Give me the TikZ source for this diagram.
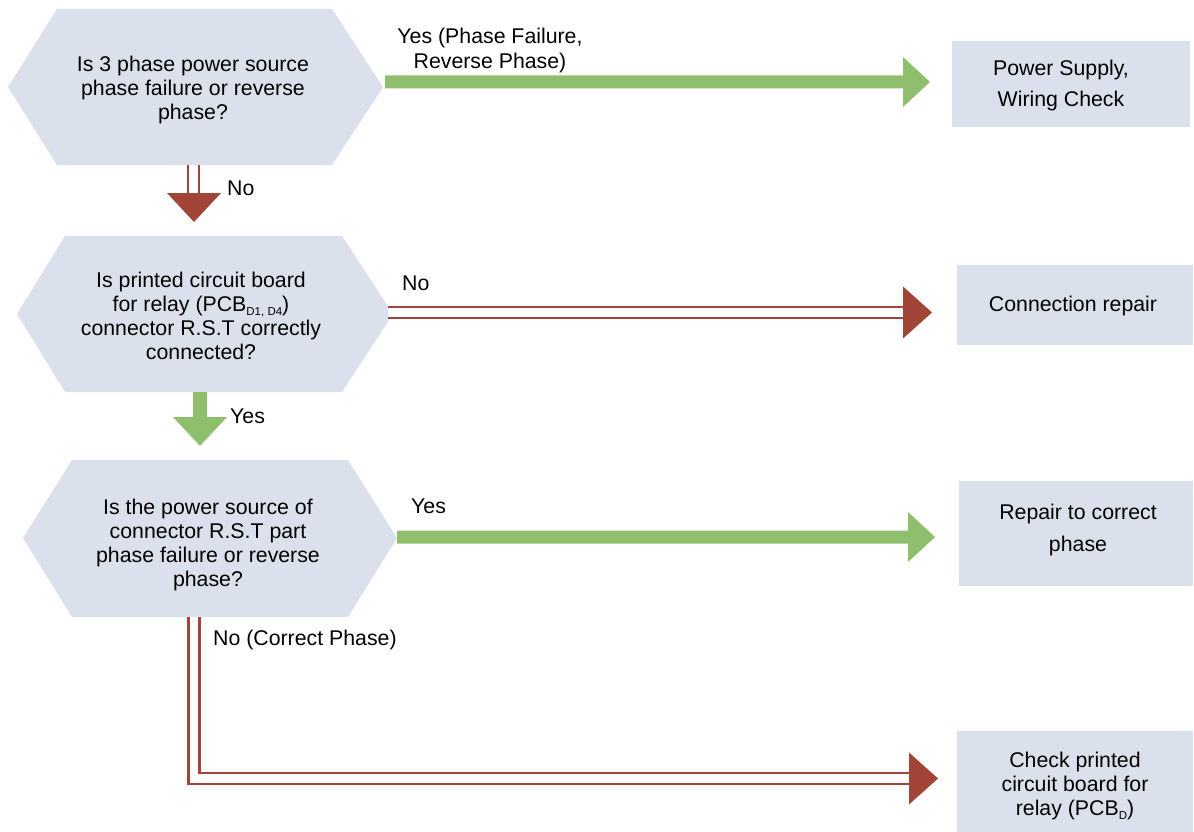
\documentclass[tikz,border=0pt]{standalone}
\usepackage{fontspec}
\setmainfont{Liberation Sans}
\usetikzlibrary{calc}
\definecolor{hexfill}{RGB}{218,225,237}
\definecolor{gcol}{RGB}{143,191,109}
\definecolor{rcol}{RGB}{162,68,56}
\newcommand{\sub}[1]{\raisebox{-4pt}{\fontsize{11.5}{11.5}\selectfont #1}}
% green block arrow to the right: start, tip (same y)
\newcommand{\garrowR}[2]{\fill[gcol] ($(#1)+(0,-6.5)$) -- ($(#2)+(-27,-6.5)$) -- ($(#2)+(-27,-25)$) -- (#2) -- ($(#2)+(-27,25)$) -- ($(#2)+(-27,6.5)$) -- ($(#1)+(0,6.5)$) -- cycle;}
% green block arrow downward: start, tip (same x)
\newcommand{\garrowD}[2]{\fill[gcol] ($(#1)+(-7,0)$) -- ($(#2)+(-7,-29)$) -- ($(#2)+(-27,-29)$) -- (#2) -- ($(#2)+(27,-29)$) -- ($(#2)+(7,-29)$) -- ($(#1)+(7,0)$) -- cycle;}
% red heads
\newcommand{\rheadR}[1]{\fill[rcol] (#1) -- ($(#1)+(-29,-26)$) -- ($(#1)+(-29,26)$) -- cycle;}
\newcommand{\rheadD}[1]{\fill[rcol] (#1) -- ($(#1)+(-27,-29)$) -- ($(#1)+(27,-29)$) -- cycle;}
\tikzset{
  txt/.style={font=\fontsize{21.3}{24}\selectfont, text=black, inner sep=0pt, align=center},
  box/.style={fill=hexfill, draw=none, inner sep=0pt},
  redline/.style={draw=rcol, line width=2.4pt, double=white, double distance=8.6pt},
}
\begin{document}
\begin{tikzpicture}[x=1pt,y=-1pt]
\useasboundingbox (0,0) rectangle (1194,832);
\fill[white] (0,0) rectangle (1194,832);

% hexagons
\fill[hexfill] (8,87) -- (57,9) -- (332,9) -- (383,87) -- (332,165) -- (57,165) -- cycle;
\node[txt] (q1) at (193,90) {Is 3 phase power source\\phase failure or reverse\\phase?};

\fill[hexfill] (17,314) -- (65,236) -- (342,236) -- (393,314) -- (342,392) -- (65,392) -- cycle;
\node[txt] (q2) at (201,315.5) {Is printed circuit board\\for relay (PCB\sub{D1,\ D4})\\connector R.S.T correctly\\connected?};

\fill[hexfill] (23,538) -- (72,460) -- (348,460) -- (397,538) -- (348,617) -- (72,617) -- cycle;
\node[txt] (q3) at (208,545) {Is the power source of\\connector R.S.T part\\phase failure or reverse\\phase?};

% boxes
\node[box, minimum width=238pt, minimum height=86pt] (b1) at (1071,84) {};
\node[txt, font=\fontsize{21.3}{31}\selectfont] (b1t) at (1061,85) {Power Supply,\\Wiring Check};
\node[box, minimum width=236pt, minimum height=80pt] (b2) at (1075,305) {};
\node[txt] (b2t) at (1073,306) {Connection repair};
\node[box, minimum width=234pt, minimum height=105pt] (b3) at (1076,533.5) {};
\node[txt, font=\fontsize{21.3}{32}\selectfont] (b3t) at (1078,530) {Repair to correct\\phase};
\node[box, minimum width=236pt, minimum height=101pt] (b4) at (1075,781.5) {};
\node[txt] (b4t) at (1075,786) {Check printed\\circuit board for\\relay (PCB\sub{D})};

% connector points
\coordinate (a1s) at (385,82);   \coordinate (a1t) at (930,82);
\coordinate (d1s) at (193.5,165); \coordinate (d1b) at (193.5,193); \coordinate (d1t) at (194,222);
\coordinate (a2s) at (388,312.5); \coordinate (a2b) at (903,312.5); \coordinate (a2t) at (932,312.5);
\coordinate (d2s) at (200,392);  \coordinate (d2t) at (200,446);
\coordinate (a3s) at (397,537);  \coordinate (a3t) at (935,537);
\coordinate (d3s) at (194,617);  \coordinate (a4b) at (909,778.5); \coordinate (a4t) at (938,778.5);

% connectors
\garrowR{a1s}{a1t}
\draw[redline] (d1s) -- (d1b);
\rheadD{d1t}
\draw[redline] (a2s) -- (a2b);
\rheadR{a2t}
\garrowD{d2s}{d2t}
\garrowR{a3s}{a3t}
\draw[redline] (d3s) -- (d3s |- a4b) -- (a4b);
\rheadR{a4t}

% labels
\node[txt, font=\fontsize{21.3}{25}\selectfont] (l1) at (490,50) {Yes (Phase Failure,\\Reverse Phase)};
\node[txt, anchor=west] (l2) at (227,188) {No};
\node[txt, anchor=west] (l3) at (402,283) {No};
\node[txt, anchor=west] (l4) at (230,416) {Yes};
\node[txt, anchor=west] (l5) at (411,506) {Yes};
\node[txt, anchor=west] (l6) at (213,640) {No (Correct Phase)};
\end{tikzpicture}
\end{document}
